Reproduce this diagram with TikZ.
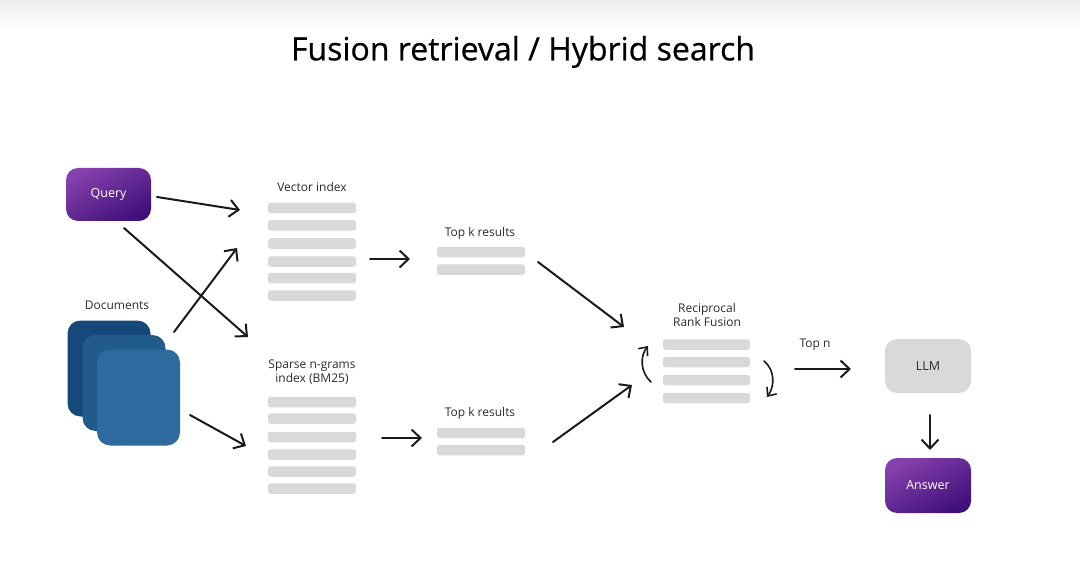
\documentclass[tikz,border=0pt]{standalone}
\usepackage{fontspec}
\setmainfont{Open Sans}
\usetikzlibrary{arrows.meta}
\definecolor{barg}{HTML}{D9D9D9}
\definecolor{purpA}{HTML}{8440AC}
\definecolor{purpB}{HTML}{42107A}
\definecolor{docA}{HTML}{15497A}
\definecolor{docB}{HTML}{215B8C}
\definecolor{docC}{HTML}{2F6A9E}
\definecolor{ink}{HTML}{1A1A1A}
\definecolor{txt}{HTML}{2A2A2A}
\begin{document}
\begin{tikzpicture}[x=1pt,y=-1pt,
  bar/.style={fill=barg, rounded corners=2.5pt, minimum width=88pt, minimum height=10.5pt, inner sep=0pt, draw=none},
  lbl/.style={font=\fontsize{12}{14}\selectfont, text=txt, align=center, inner sep=0pt},
  purp/.style={rounded corners=12pt, top color=purpA, bottom color=purpB, shading angle=30, minimum width=85pt, minimum height=53pt, inner sep=0pt, text=white, font=\fontsize{12.5}{14}\selectfont},
  doc/.style={rounded corners=13pt, minimum width=83pt, minimum height=96pt, inner sep=0pt},
  arr/.style={-{Straight Barb[length=9pt,width=17pt]}, line width=2pt, draw=ink, line cap=round},
]
\useasboundingbox (0,0) rectangle (1080,567);
\shade[top color=black!7, bottom color=white] (0,0) rectangle (1080,30);

\node[font=\fontsize{32}{36}\selectfont\addfontfeatures{FakeBold=0.6}, inner sep=0pt] (title) at (523,52) {Fusion retrieval / Hybrid search};

% query
\node[purp] (query) at (108.5,194.5) {Query};

% documents
\node[lbl] (doclbl) at (117,305) {Documents};
\node[doc, fill=docA] (docA) at (109,368.5) {};
\node[doc, fill=docB] (docB) at (124,383) {};
\node[doc, fill=docC] (docC) at (138.5,397.5) {};

% vector index
\node[lbl] (veclbl) at (312,187) {Vector index};
\foreach \i/\y in {1/208,2/225.5,3/243.5,4/261.5,5/278,6/295.5}
  \node[bar] (v\i) at (312,\y) {};

% sparse index
\node[lbl] (sparlbl) at (312,372) {Sparse n-grams\\index (BM25)};
\foreach \i/\y in {1/402,2/418.5,3/437,4/454.5,5/471.5,6/488.5}
  \node[bar] (s\i) at (312,\y) {};

% top k results
\node[lbl] (tk1lbl) at (480,233) {Top k results};
\node[bar] (ta1) at (481,252) {};
\node[bar] (ta2) at (481,269.5) {};
\node[lbl] (tk2lbl) at (480,413) {Top k results};
\node[bar] (tb1) at (481,433) {};
\node[bar] (tb2) at (481,450) {};

% RRF
\node[lbl] (rrflbl) at (707,315) {Reciprocal\\Rank Fusion};
\foreach \i/\y in {1/344.5,2/362,3/380,4/398}
  \node[bar, minimum width=87pt] (r\i) at (706.5,\y) {};

% top n
\node[lbl] (topn) at (815,345) {Top n};

% LLM and answer
\node[rounded corners=12pt, fill=barg, minimum width=86pt, minimum height=54pt, inner sep=0pt, font=\fontsize{12.5}{14}\selectfont, text=txt] (llm) at (928,366) {LLM};
\node[purp, minimum width=86pt, minimum height=55pt] (answer) at (928,485.5) {Answer};

% arrow endpoints
\coordinate (a1s) at (157,197); \coordinate (a1e) at (240,210);
\coordinate (a2s) at (124,228); \coordinate (a2e) at (248,337);
\coordinate (a3s) at (174,332); \coordinate (a3e) at (237,248);
\coordinate (a4s) at (190,415); \coordinate (a4e) at (246,446);
\coordinate (a5s) at (370,259); \coordinate (a5e) at (410,259);
\coordinate (a6s) at (382,438); \coordinate (a6e) at (422,438);
\coordinate (a7s) at (538,262); \coordinate (a7e) at (624,327);
\coordinate (a8s) at (553,442); \coordinate (a8e) at (632,385);
\coordinate (a9s) at (651,382); \coordinate (a9e) at (648,346);
\coordinate (a10s) at (764,361); \coordinate (a10e) at (767,397);
\coordinate (a11s) at (795,369); \coordinate (a11e) at (851,369);
\coordinate (a12s) at (930,415); \coordinate (a12e) at (930,450);

\draw[arr] (a1s) -- (a1e);
\draw[arr] (a2s) -- (a2e);
\draw[arr] (a3s) -- (a3e);
\draw[arr] (a4s) -- (a4e);
\draw[arr] (a5s) -- (a5e);
\draw[arr] (a6s) -- (a6e);
\draw[arr] (a7s) -- (a7e);
\draw[arr] (a8s) -- (a8e);
\draw[arr, line width=1.6pt, -{Straight Barb[length=7pt,width=12pt]}] (a9s) .. controls (640,372) and (640,356) .. (a9e);
\draw[arr, line width=1.6pt, -{Straight Barb[length=7pt,width=12pt]}] (a10s) .. controls (775,370) and (775,386) .. (a10e);
\draw[arr] (a11s) -- (a11e);
\draw[arr] (a12s) -- (a12e);
\end{tikzpicture}
\end{document}
